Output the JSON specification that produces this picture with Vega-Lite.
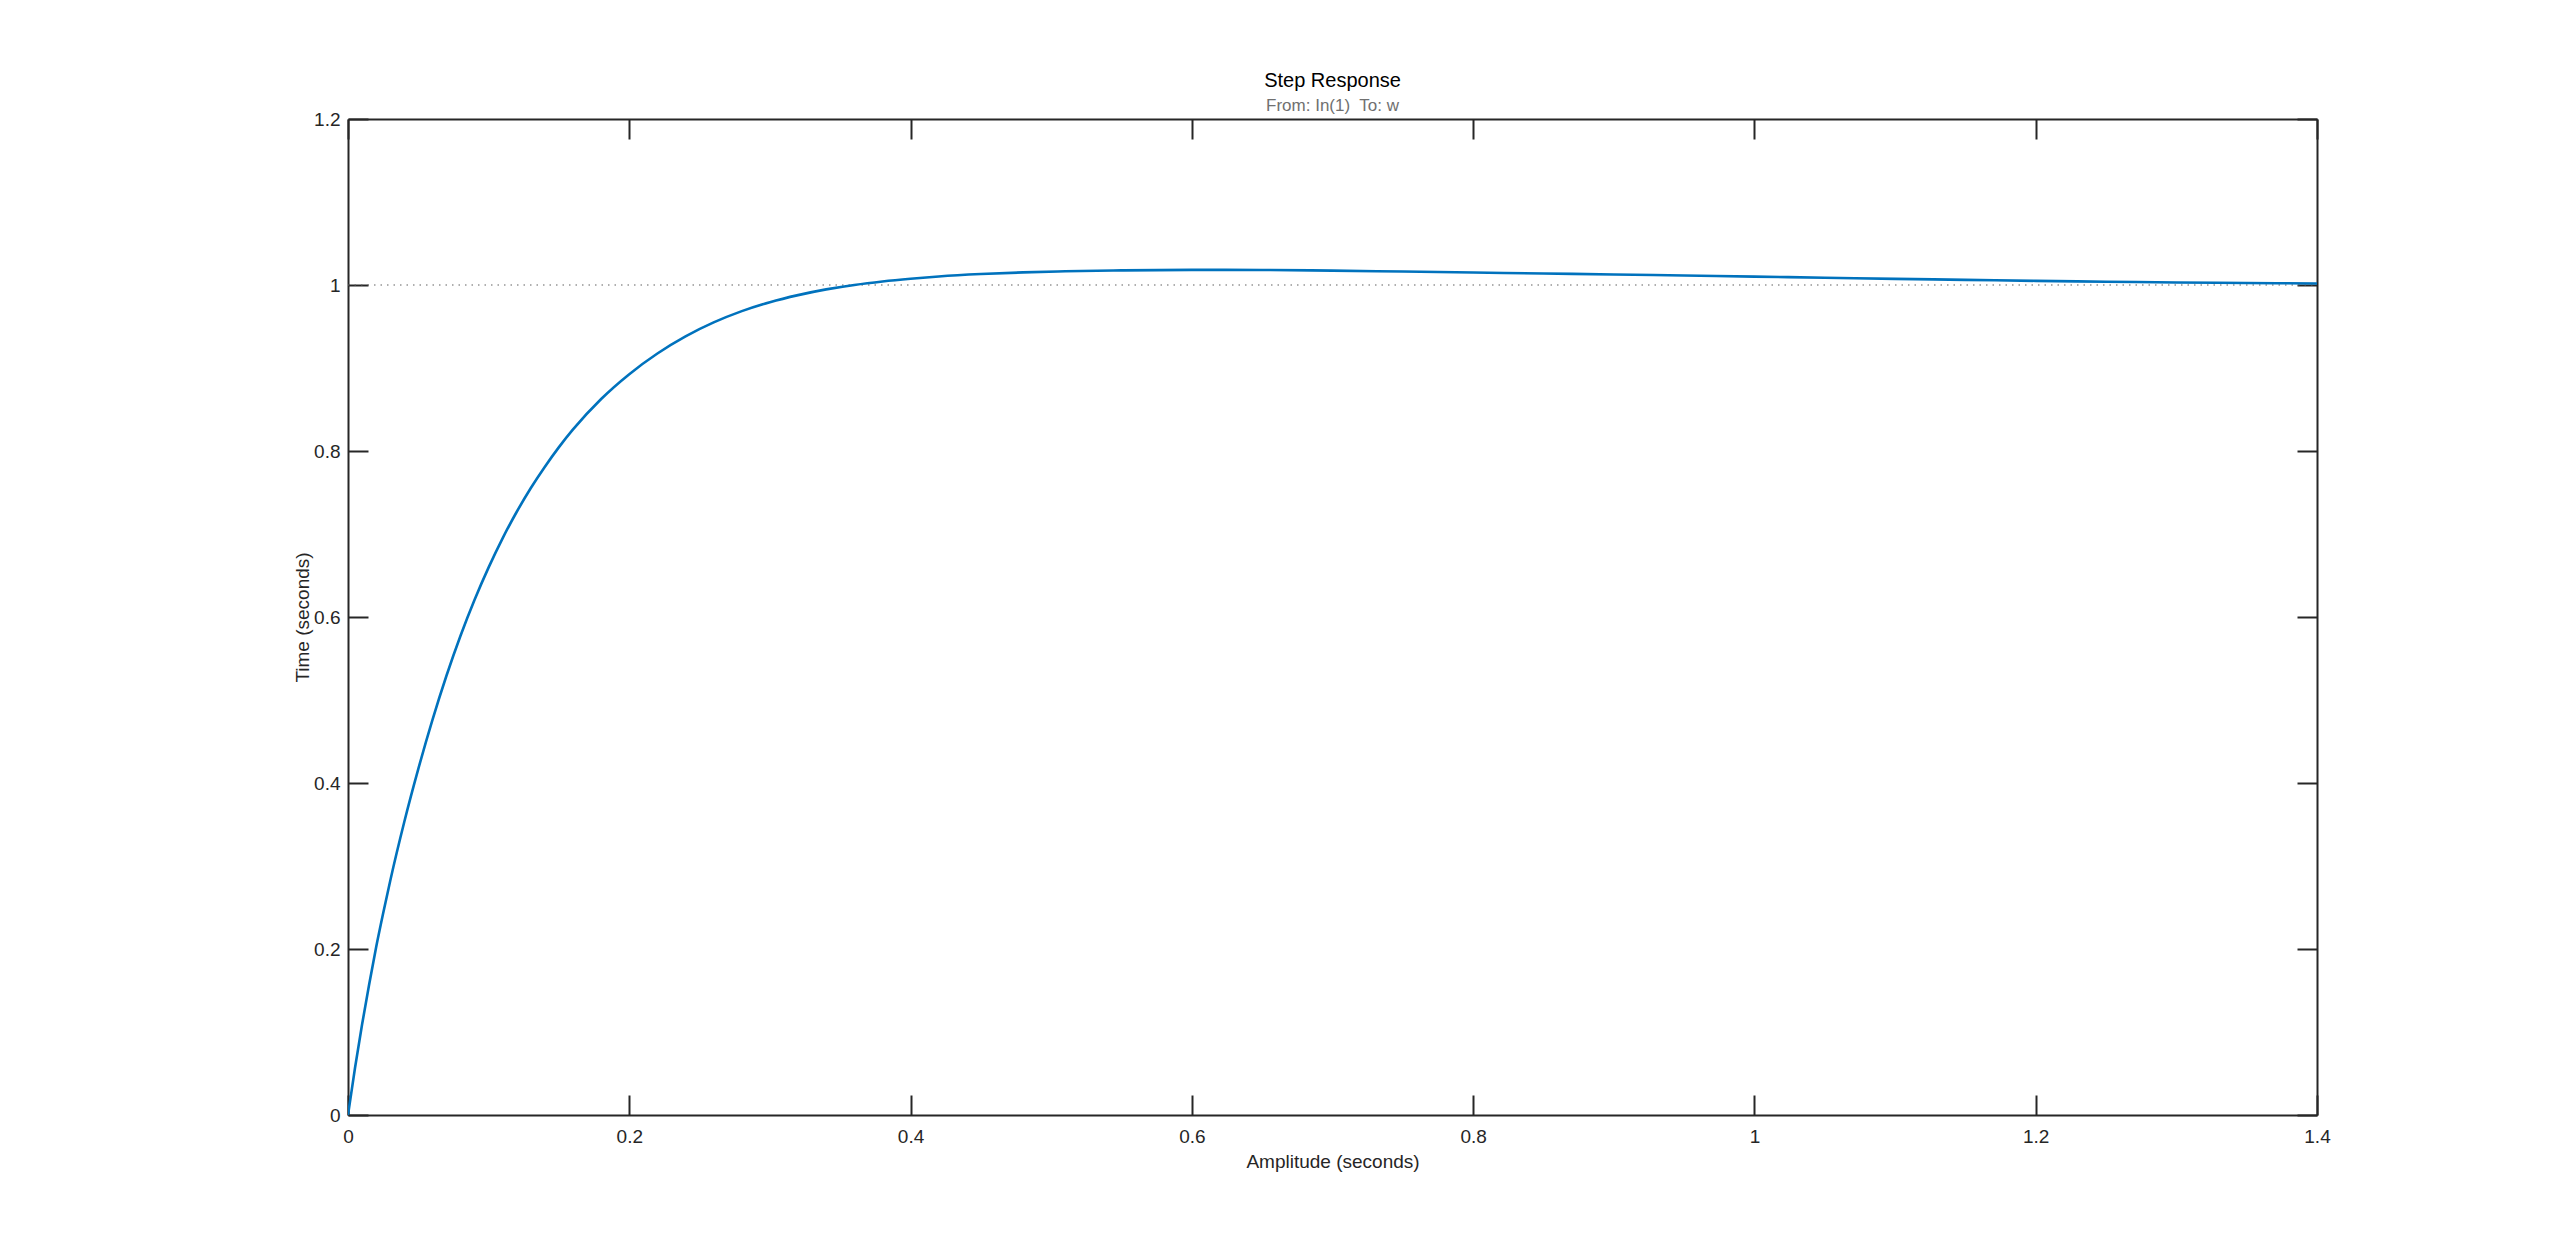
{
  "$schema": "https://vega.github.io/schema/vega-lite/v6.json",
  "autosize": {"type": "none"},
  "padding": {"left": 348, "top": 119, "right": 243, "bottom": 139},
  "width": 1969,
  "height": 996,
  "background": "white",
  "title": {
    "text": "Step Response",
    "subtitle": "From: In(1)\u00a0 To: w",
    "anchor": "middle",
    "offset": -4,
    "subtitlePadding": 7
  },
  "datasets": {
    "curve": [
      {"t": 0, "v": 0},
      {"t": 0.005, "v": 0.057},
      {"t": 0.01, "v": 0.109},
      {"t": 0.015, "v": 0.157},
      {"t": 0.02, "v": 0.202},
      {"t": 0.025, "v": 0.243},
      {"t": 0.03, "v": 0.282},
      {"t": 0.04, "v": 0.353},
      {"t": 0.05, "v": 0.417},
      {"t": 0.06, "v": 0.4757},
      {"t": 0.07, "v": 0.5292},
      {"t": 0.08, "v": 0.5774},
      {"t": 0.09, "v": 0.6208},
      {"t": 0.1, "v": 0.6598},
      {"t": 0.11, "v": 0.6951},
      {"t": 0.12, "v": 0.7268},
      {"t": 0.13, "v": 0.7554},
      {"t": 0.14, "v": 0.7811},
      {"t": 0.15, "v": 0.8047},
      {"t": 0.16, "v": 0.826},
      {"t": 0.18, "v": 0.8627},
      {"t": 0.2, "v": 0.8926},
      {"t": 0.22, "v": 0.9175},
      {"t": 0.24, "v": 0.9381},
      {"t": 0.26, "v": 0.9549},
      {"t": 0.28, "v": 0.9685},
      {"t": 0.3, "v": 0.9793},
      {"t": 0.32, "v": 0.9878},
      {"t": 0.34, "v": 0.9947},
      {"t": 0.36, "v": 1.0001},
      {"t": 0.38, "v": 1.0043},
      {"t": 0.4, "v": 1.0076},
      {"t": 0.42, "v": 1.0103},
      {"t": 0.45, "v": 1.0132},
      {"t": 0.48, "v": 1.0152},
      {"t": 0.51, "v": 1.0165},
      {"t": 0.55, "v": 1.0176},
      {"t": 0.6, "v": 1.0182},
      {"t": 0.65, "v": 1.0181},
      {"t": 0.7, "v": 1.0173},
      {"t": 0.75, "v": 1.0162},
      {"t": 0.8, "v": 1.015},
      {"t": 0.85, "v": 1.0139},
      {"t": 0.9, "v": 1.0127},
      {"t": 0.95, "v": 1.0114},
      {"t": 1.0, "v": 1.0101},
      {"t": 1.05, "v": 1.0087},
      {"t": 1.1, "v": 1.0074},
      {"t": 1.15, "v": 1.0062},
      {"t": 1.2, "v": 1.005},
      {"t": 1.25, "v": 1.004},
      {"t": 1.3, "v": 1.0031},
      {"t": 1.35, "v": 1.0024},
      {"t": 1.4, "v": 1.0018}
    ],
    "ref": [{"t0": 0, "t1": 1.4, "v": 1}]
  },
  "layer": [
    {
      "data": {"name": "ref"},
      "mark": {"type": "rule", "color": "#606060", "strokeWidth": 1.2, "strokeDash": [1.5, 5]},
      "encoding": {
        "x": {
          "field": "t0", "type": "quantitative",
          "scale": {"domain": [0, 1.4], "nice": false, "zero": false},
          "axis": {"orient": "top", "labels": false, "title": null, "tickSize": -20, "values": [0, 0.2, 0.4, 0.6, 0.8, 1, 1.2, 1.4]}
        },
        "x2": {"field": "t1"},
        "y": {
          "field": "v", "type": "quantitative",
          "scale": {"domain": [0, 1.2], "nice": false, "zero": false},
          "axis": {"orient": "right", "labels": false, "title": null, "tickSize": -20, "values": [0, 0.2, 0.4, 0.6, 0.8, 1, 1.2]}
        }
      }
    },
    {
      "data": {"name": "curve"},
      "mark": {"type": "line", "color": "#0072BD", "strokeWidth": 2.6, "interpolate": "monotone", "clip": true},
      "encoding": {
        "x": {
          "field": "t", "type": "quantitative",
          "scale": {"domain": [0, 1.4], "nice": false, "zero": false},
          "axis": {"orient": "bottom", "title": "Amplitude (seconds)", "tickSize": -20, "labelPadding": 32, "titlePadding": 6, "format": ".1~f", "values": [0, 0.2, 0.4, 0.6, 0.8, 1, 1.2, 1.4]}
        },
        "y": {
          "field": "v", "type": "quantitative",
          "scale": {"domain": [0, 1.2], "nice": false, "zero": false},
          "axis": {"orient": "left", "title": "Time (seconds)", "tickSize": -20, "labelPadding": 28, "titlePadding": 1, "format": ".1~f", "values": [0, 0.2, 0.4, 0.6, 0.8, 1, 1.2]}
        }
      }
    }
  ],
  "resolve": {"axis": {"x": "independent", "y": "independent"}},
  "config": {
    "view": {"stroke": null},
    "font": "Liberation Sans",
    "title": {"font": "Liberation Sans", "fontSize": 20, "fontWeight": "normal", "color": "#000000", "subtitleFont": "Liberation Sans", "subtitleFontSize": 17, "subtitleColor": "#707070"},
    "axis": {
      "grid": false,
      "domainColor": "#262626",
      "domainWidth": 2,
      "tickColor": "#262626",
      "tickWidth": 2,
      "labelFont": "Liberation Sans",
      "labelFontSize": 19,
      "labelColor": "#262626",
      "titleFont": "Liberation Sans",
      "titleFontSize": 19,
      "titleFontWeight": "normal",
      "titleColor": "#262626",
      "labelFlush": false,
      "labelOverlap": false
    }
  }
}
